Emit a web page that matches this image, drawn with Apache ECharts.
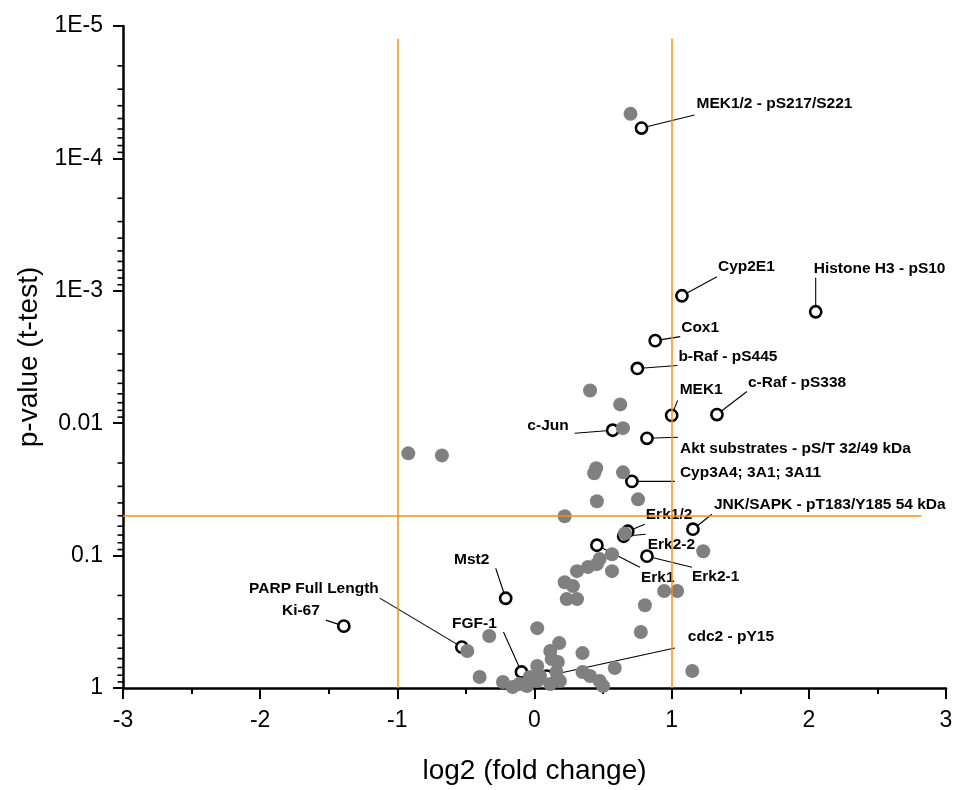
<!DOCTYPE html>
<html>
<head>
<meta charset="utf-8">
<script src="https://cdn.jsdelivr.net/npm/echarts@6/dist/echarts.min.js"></script>
<style>
html,body{margin:0;padding:0;background:#fff;}
#chart{width:958px;height:790px;}
</style>
</head>
<body>
<div id="chart"></div>
<script>
// ---------- data ----------
const xTickValues = [-3, -2, -1, 0, 1, 2, 3];
const yTickLabels = ['1E-5', '1E-4', '1E-3', '0.01', '0.1', '1'];
const yDecades = [-5, -4, -3, -2, -1];
const minorMultipliers = [2, 3, 4, 5, 6, 7, 8, 9];

// unlabelled proteins: log2 fold change, p-value
const grayX = [0.70, 0.405, 0.625, 0.645, -0.92, -0.675, 0.45, 0.435, 0.645, 0.455,
  0.755, 0.22, 0.66, 1.23, 0.565, 0.475, 0.455, 0.39, 0.31, 0.565,
  0.22, 0.28, 0.235, 0.31, 0.945, 1.04, 0.805, 0.775, 0.02, -0.33,
  -0.49, 0.18, 0.115, 0.35, 0.17, 0.125, 0.585, 1.15, 0.02, -0.40,
  -0.23, 0.35, 0.405, 0.475, 0.50, 0.16, 0.185, -0.035, 0.04, -0.11,
  -0.055, -0.16, 0.115, 0.02];
const grayP = [4.61e-5, 5.66e-3, 7.21e-3, 0.0109, 0.0169, 0.0175, 0.0219, 0.0239, 0.0235, 0.0389,
  0.0376, 0.0504, 0.068, 0.0927, 0.0976, 0.106, 0.116, 0.122, 0.131, 0.131,
  0.159, 0.170, 0.213, 0.213, 0.185, 0.185, 0.237, 0.378, 0.353, 0.405,
  0.526, 0.458, 0.526, 0.545, 0.637, 0.604, 0.707, 0.745, 0.682, 0.826,
  0.901, 0.757, 0.812, 0.885, 0.966, 0.757, 0.885, 0.826, 0.812, 0.933,
  0.966, 0.983, 0.933, 0.885];

// labelled proteins
const labNames = ['MEK1/2 - pS217/S221', 'Cyp2E1', 'Histone H3 - pS10', 'Cox1', 'b-Raf - pS445',
  'MEK1', 'c-Raf - pS338', 'c-Jun', 'Akt substrates - pS/T 32/49 kDa', 'Cyp3A4; 3A1; 3A11',
  'JNK/SAPK - pT183/Y185 54 kDa', 'Erk1/2', 'Erk2-2', 'Erk1', 'Erk2-1',
  'Mst2', 'PARP Full Length', 'Ki-67', 'FGF-1', 'cdc2 - pY15'];
const labX = [0.78, 1.075, 2.05, 0.88, 0.75, 1.0, 1.33, 0.57, 0.82, 0.71,
  1.155, 0.68, 0.65, 0.455, 0.82, -0.21, -0.53, -1.39, -0.095, 0.09];
const labP = [5.9e-5, 1.09e-3, 1.44e-3, 2.38e-3, 3.86e-3, 8.73e-3, 8.6e-3, 0.0113, 0.0130, 0.0275,
  0.0632, 0.0655, 0.0714, 0.0835, 0.101, 0.210, 0.491, 0.341, 0.757, 0.812];

// threshold lines
const foldThresholds = [-1, 1];
const pThreshold = 0.05;

// ---------- layout (pixel offsets of label text and leader-line end from each circle) ----------
const labelLayout = [
  {t: [55, -24], a: 'left', l: [53, -13]},
  {t: [36, -29], a: 'left', l: [35, -19]},
  {t: [-2, -43], a: 'left', l: [0, -34]},
  {t: [26, -13], a: 'left', l: [25, -4]},
  {t: [41, -12], a: 'left', l: [40, -3]},
  {t: [8, -26], a: 'left', l: [6, -15]},
  {t: [31, -32], a: 'left', l: [30, -23]},
  {t: [-44, -5], a: 'right', l: [-38, 3]},
  {t: [33, 10], a: 'left', l: [31, -1]},
  {t: [48, -9], a: 'left', l: [43, 0]},
  {t: [21, -24], a: 'left', l: [19, -15]},
  {t: [18, -17], a: 'left', l: [17, -7]},
  {t: [24, 8], a: 'left', l: [22, -2]},
  {t: [44, 32], a: 'left', l: [43, 22]},
  {t: [45, 21], a: 'left', l: [45, 11]},
  {t: [-34, -39], a: 'center', l: [-10, -30]},
  {t: [-83, -58], a: 'right', l: [-82, -49]},
  {t: [-24, -15], a: 'right', l: [-18, -6]},
  {t: [-47, -48], a: 'center', l: [-18, -40]},
  {t: [141, -39], a: 'left', l: [128, -28]}
];
const underIdx = [16, 19]; // drawn beneath the grey points

const FONT = "'Liberation Sans', Arial, Helvetica, sans-serif";
const ORANGE = '#ff8c1a';

// ---------- build ----------
const grayData = grayX.map((x, i) => [x, grayP[i]]);
const minorTicks = [];
yDecades.forEach(d => minorMultipliers.forEach(m => minorTicks.push([-3, m * Math.pow(10, d)])));

function labData(filterFn) {
  const out = [];
  labX.forEach((x, i) => { if (filterFn(i)) out.push([x, labP[i], i]); });
  return out;
}

function renderLabelled(params, api) {
  const idx = api.value(2);
  const pt = api.coord([api.value(0), api.value(1)]);
  const L = labelLayout[idx];
  return {
    type: 'group',
    children: [
      {type: 'line', shape: {x1: pt[0], y1: pt[1], x2: pt[0] + L.l[0], y2: pt[1] + L.l[1]},
        style: {stroke: '#000', lineWidth: 1.1}},
      {type: 'circle', shape: {cx: pt[0], cy: pt[1], r: 5.6},
        style: {fill: '#fff', stroke: '#000', lineWidth: 2.6}},
      {type: 'text', x: pt[0] + L.t[0], y: pt[1] + L.t[1],
        style: {text: labNames[idx], fill: '#000', font: 'bold 15.5px ' + FONT,
          align: L.a, verticalAlign: 'middle'}}
    ]
  };
}

const chart = echarts.init(document.getElementById('chart'), null, {renderer: 'canvas'});
chart.setOption({
  animation: false,
  backgroundColor: '#fff',
  grid: {left: 123, right: 12, top: 26, bottom: 101, containLabel: false},
  xAxis: {
    type: 'value', min: -3, max: 3, interval: 1,
    name: 'log2 (fold change)', nameLocation: 'middle', nameGap: 69,
    nameTextStyle: {fontFamily: FONT, fontSize: 28, color: '#000'},
    axisLine: {onZero: false, lineStyle: {color: '#000', width: 2.5}},
    axisTick: {show: true, inside: false, length: 11, lineStyle: {color: '#000', width: 2}},
    minorTick: {show: true, splitNumber: 2, length: 6, lineStyle: {color: '#000', width: 2}},
    splitLine: {show: false},
    axisLabel: {fontFamily: FONT, fontSize: 23, color: '#000', margin: 21,
      formatter: v => (xTickValues.indexOf(v) >= 0 ? String(v) : '')}
  },
  yAxis: {
    type: 'log', logBase: 10, min: 1e-5, max: 1, inverse: true,
    name: 'p-value (t-test)', nameLocation: 'middle', nameGap: 72, nameRotate: 90,
    nameTextStyle: {fontFamily: FONT, fontSize: 28, color: '#000'},
    axisLine: {onZero: false, lineStyle: {color: '#000', width: 2.5}},
    axisTick: {show: true, inside: false, length: 10, lineStyle: {color: '#000', width: 2}},
    splitLine: {show: false},
    axisLabel: {fontFamily: FONT, fontSize: 23, color: '#000', margin: 20,
      formatter: v => {
        const e = Math.round(Math.log10(v));
        return yTickLabels[e + 5] || '';
      }}
  },
  series: [
    {
      type: 'custom', name: 'minorTicks', coordinateSystem: 'cartesian2d', clip: false, silent: true,
      data: minorTicks,
      renderItem: (params, api) => {
        const pt = api.coord([api.value(0), api.value(1)]);
        return {type: 'line', shape: {x1: pt[0] - 5.5, y1: pt[1], x2: pt[0], y2: pt[1]},
          style: {stroke: '#000', lineWidth: 1.6}};
      },
      markLine: {
        silent: true, symbol: ['none', 'none'], label: {show: false},
        lineStyle: {color: ORANGE, width: 1.5, type: 'solid'},
        data: [
          [{coord: [foldThresholds[0], 1]}, {coord: [foldThresholds[0], 1.25e-5]}],
          [{coord: [foldThresholds[1], 1]}, {coord: [foldThresholds[1], 1.25e-5]}],
          [{coord: [-3, pThreshold]}, {coord: [2.82, pThreshold]}]
        ]
      }
    },
    {
      type: 'custom', name: 'labelledUnder', coordinateSystem: 'cartesian2d', clip: false,
      data: labData(i => underIdx.indexOf(i) >= 0), renderItem: renderLabelled
    },
    {
      type: 'scatter', name: 'proteins', data: grayData, symbol: 'circle', symbolSize: 14,
      itemStyle: {color: '#808080', opacity: 1}, clip: false
    },
    {
      type: 'custom', name: 'labelled', coordinateSystem: 'cartesian2d', clip: false,
      data: labData(i => underIdx.indexOf(i) < 0), renderItem: renderLabelled
    }
  ]
});
</script>
</body>
</html>
